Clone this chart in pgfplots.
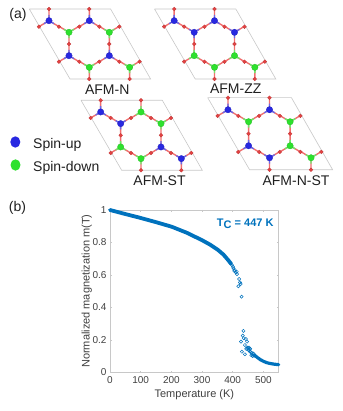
\documentclass[border=0pt]{standalone}
\usepackage{fontspec}
\setmainfont{Liberation Sans}
\usepackage{pgfplots}
\pgfplotsset{compat=1.18}
\definecolor{mblue}{RGB}{40,40,225}
\definecolor{mgreen}{RGB}{45,225,45}
\definecolor{ored}{RGB}{228,66,66}
\definecolor{bred}{RGB}{240,110,110}
\definecolor{cblue}{RGB}{0,114,189}
\definecolor{lbl}{RGB}{64,64,64}
\definecolor{axl}{RGB}{200,200,200}
\newcommand\sU[3]{% metal with one oxygen above
  \pgfmathsetmacro\xa{#1-10}\pgfmathsetmacro\xb{#1+10}\pgfmathsetmacro\ya{#2-11.67}\pgfmathsetmacro\yb{#2+6}%
  \pgfmathsetmacro\xc{#1-5}\pgfmathsetmacro\xd{#1+5}\pgfmathsetmacro\yc{#2-5.8}\pgfmathsetmacro\yd{#2+3}%
  \addplot[bred,line width=1.4pt] coordinates {(#1,\ya) (#1,#2) (\xa,\yb) (#1,#2) (\xb,\yb)};
  \addplot[#3!70!white,line width=1.4pt] coordinates {(#1,\yc) (#1,#2) (\xc,\yd) (#1,#2) (\xd,\yd)};
}
\newcommand\sD[3]{% metal with one oxygen below
  \pgfmathsetmacro\xa{#1-10}\pgfmathsetmacro\xb{#1+10}\pgfmathsetmacro\ya{#2+11.67}\pgfmathsetmacro\yb{#2-6}%
  \pgfmathsetmacro\xc{#1-5}\pgfmathsetmacro\xd{#1+5}\pgfmathsetmacro\yc{#2+5.8}\pgfmathsetmacro\yd{#2-3}%
  \addplot[bred,line width=1.4pt] coordinates {(#1,\ya) (#1,#2) (\xa,\yb) (#1,#2) (\xb,\yb)};
  \addplot[#3!70!white,line width=1.4pt] coordinates {(#1,\yc) (#1,#2) (\xc,\yd) (#1,#2) (\xd,\yd)};
}
\newcommand\atom[3]{\addplot[only marks,mark=*,mark size=3.2pt,mark options={draw=#3!85!black,fill=#3,line width=0.3pt}] coordinates {(#1,#2)};}
\newcommand\lattice[8]{%
\begin{axis}[at={(\lx pt,\ly pt)},anchor=north west,scale only axis,width=\ls*121.3pt,height=\ls*70pt,
  xmin=0,xmax=121.3,ymin=0,ymax=70,y dir=reverse,axis lines=none,clip=false]
  \addplot[black!22,line width=0.6pt] coordinates {(0,0) (81.3,0) (121.3,70) (40.7,70) (0,0)};
  \sU{19.67}{11.67}{#1}\sU{60}{11.67}{#2}\sD{39.67}{23.33}{#3}\sD{80}{23.33}{#4}
  \sU{39.67}{46.67}{#5}\sU{80}{46.67}{#6}\sD{60}{58.33}{#7}\sD{100.33}{58.33}{#8}
  \addplot[only marks,mark=*,mark size=1.9pt,mark options={draw=ored!85!black,fill=ored,line width=0.3pt}] coordinates {
    (19.67,0) (60,0) (9.67,17.67) (29.67,17.67) (50,17.67) (70,17.67) (90,17.67)
    (39.67,35) (80,35) (29.67,52.67) (50,52.67) (70,52.67) (90,52.67) (110.33,52.67)
    (60,70) (100.33,70)};
  \atom{19.67}{11.67}{#1}\atom{60}{11.67}{#2}\atom{39.67}{23.33}{#3}\atom{80}{23.33}{#4}
  \atom{39.67}{46.67}{#5}\atom{80}{46.67}{#6}\atom{60}{58.33}{#7}\atom{100.33}{58.33}{#8}
\end{axis}}
\begin{document}
\begin{tikzpicture}[x=1pt,y=1pt]
\path[use as bounding box] (0,0) rectangle (342,411);
\def\ls{1}
\def\lx{29.3}\def\ly{402}
\lattice{mblue}{mblue}{mgreen}{mgreen}{mblue}{mblue}{mgreen}{mgreen}
\def\lx{154.5}\def\ly{402}
\lattice{mblue}{mblue}{mblue}{mblue}{mgreen}{mgreen}{mgreen}{mgreen}
\def\lx{81}\def\ly{310.7}
\lattice{mblue}{mgreen}{mblue}{mgreen}{mgreen}{mblue}{mgreen}{mblue}
\def\ls{1.03}
\def\lx{207.7}\def\ly{313.3}
\lattice{mblue}{mblue}{mgreen}{mgreen}{mblue}{mgreen}{mblue}{mgreen}
\begin{scope}[every node/.style={font=\fontsize{14}{16}\selectfont,text=black!88,inner sep=0pt}]
\node at (18,396) {(a)};
\node at (107.2,321.7) {AFM-N};
\node at (235.7,322.3) {AFM-ZZ};
\node at (159.5,230) {AFM-ST};
\node at (296,230) {AFM-N-ST};
\node at (17.5,202.7) {(b)};
\node[anchor=west] at (33,266) {Spin-up};
\node[anchor=west] at (33,243.3) {Spin-down};
\end{scope}
\fill[mblue] (15.3,269) ellipse (5 and 5.7);
\fill[mgreen] (15.5,246) ellipse (5 and 5.7);
\begin{axis}[at={(110pt,38.7pt)},anchor=south west,scale only axis,width=168.7pt,height=162.3pt,
  xmin=0,xmax=550,ymin=0,ymax=1,clip=false,
  xtick={0,100,200,300,400,500},ytick={0,0.2,0.4,0.6,0.8,1},
  tick align=inside,major tick length=1.6pt,
  axis line style={axl,line width=0.9pt},tick style={axl,line width=0.5pt},
  /pgf/number format/assume math mode=true,
  tick label style={font=\fontsize{10}{11}\selectfont,text=lbl},
  xticklabel style={yshift=-0.5pt},
  xlabel={\fontsize{11}{12}\selectfont Temperature (K)},ylabel={\fontsize{11}{12}\selectfont Normalized magnetization m(T)},
  label style={text=lbl},
  every axis x label/.style={at={(axis description cs:0.5,-0.135)},anchor=center,text=lbl},
  every axis y label/.style={at={(axis description cs:-0.137,0.5)},rotate=90,anchor=center,text=lbl}]
\addplot[cblue,line width=3.8pt,line cap=round,line join=round] coordinates {
 (0,1.0) (50,0.975) (92,0.955) (150,0.925) (201,0.897) (250,0.860) (299,0.815) (325,0.788) (352,0.754)
 (370,0.725) (385,0.692) (395,0.668)};
\addplot[cblue,line width=3.2pt,line cap=round,line join=round] coordinates {
 (470,0.107) (480,0.092) (490,0.078) (500,0.068) (510,0.060) (520,0.055) (535,0.05) (550,0.047)};
\addplot[only marks,mark=o,mark size=1.6pt,mark options={cblue,line width=0.5pt}] coordinates {
 (398,0.66) (401,0.65) (403,0.64) (405,0.625) (407,0.63) (410,0.615) (413,0.62) (414,0.605)
 (421,0.575) (424,0.554) (426,0.544) (418.5,0.53) (429,0.466)
 (435,0.255) (433,0.226) (436,0.21) (443,0.205) (447,0.189) (427,0.189) (440,0.168)
 (444,0.144) (430,0.127) (440,0.111) (449,0.152) (453,0.152) (457,0.145) (452,0.135)
 (459,0.125) (461,0.105) (465,0.1) (456,0.128) (462,0.12) (466,0.112) (470,0.102) (447,0.15) (455,0.14) (468,0.115)};
\node[font=\fontsize{11}{12}\bfseries\selectfont,text=cblue,inner sep=0pt] at (axis cs:441,0.915) {T\raisebox{-2.4pt}{C} = 447 K};
\end{axis}
\end{tikzpicture}
\end{document}
